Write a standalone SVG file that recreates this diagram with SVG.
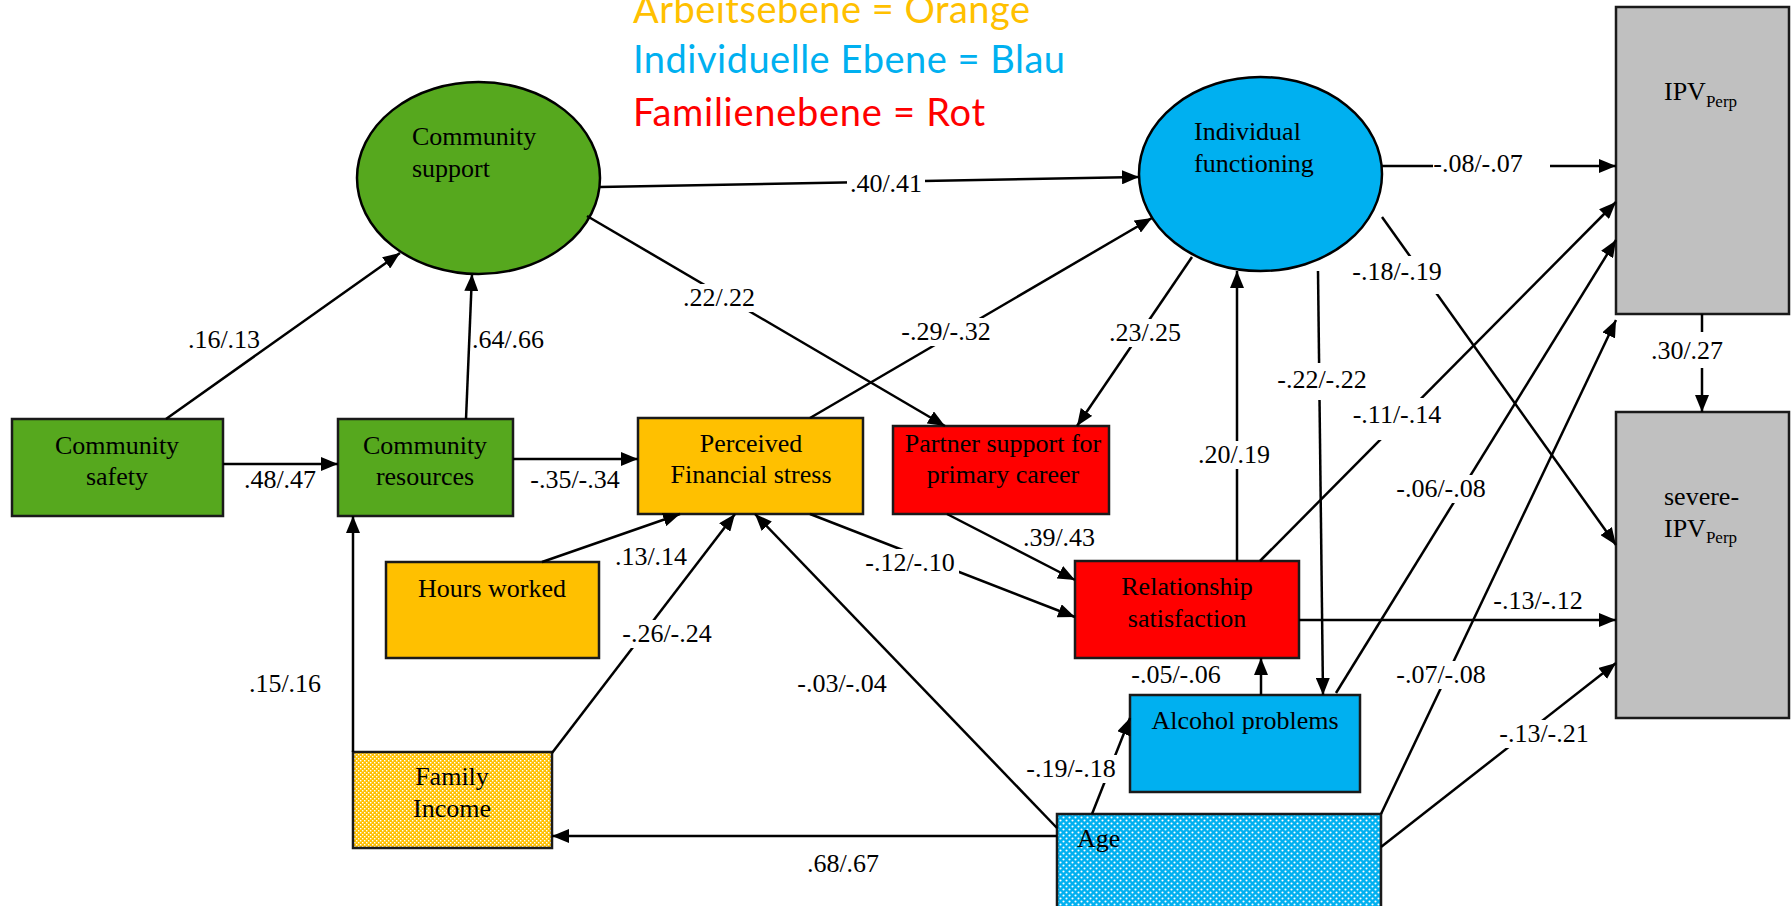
<svg xmlns="http://www.w3.org/2000/svg" width="1791" height="906" viewBox="0 0 1791 906">
<style>
.lbl{font-family:"Liberation Serif","Times New Roman",serif;font-size:26px;fill:#000}
.nt{font-family:"Liberation Serif","Times New Roman",serif;font-size:26px;fill:#000}
.c{stroke:#000;stroke-width:2.5;fill:none;marker-end:url(#ah)}
.l{stroke:#000;stroke-width:2.5;fill:none}
.box{stroke:#1a1a1a;stroke-width:2.5}
.bg{fill:#fff}
.leg{font-family:Lato,"Open Sans",sans-serif;font-size:38px}
</style>
<defs>
<marker id="ah" markerUnits="userSpaceOnUse" markerWidth="18" markerHeight="14" refX="17" refY="7" orient="auto">
<path d="M0,0 L17,7 L0,14 z" fill="#000"/>
</marker>
<pattern id="chk" width="4" height="4" patternUnits="userSpaceOnUse">
<rect width="4" height="4" fill="#FFC000"/>
<rect x="0" y="0" width="1.4" height="1.4" fill="#fff"/>
<rect x="2" y="2" width="1.4" height="1.4" fill="#fff"/>
</pattern>
<pattern id="dots" width="6" height="6" patternUnits="userSpaceOnUse">
<rect width="6" height="6" fill="#00B0F0"/>
<circle cx="1.5" cy="1.5" r="1.05" fill="#fff"/>
<circle cx="4.5" cy="4.5" r="1.05" fill="#fff"/>
</pattern>
</defs>
<rect width="1791" height="906" fill="#fff"/>

<g id="legend">
<text class="leg" x="633" y="23" fill="#FFC000" textLength="397">Arbeitsebene = Orange</text>
<text class="leg" x="633" y="73" fill="#00B0F0" textLength="432">Individuelle Ebene = Blau</text>
<text class="leg" x="633" y="126" fill="#FF0000" textLength="352">Familienebene = Rot</text>
</g>

<g id="community_support">
<ellipse cx="478.5" cy="178" rx="121.5" ry="96" fill="#56A81E" stroke="#000" stroke-width="2.5"/>
<text class="nt" x="412" y="145">Community</text>
<text class="nt" x="412" y="177">support</text>
</g>
<g id="individual_functioning">
<ellipse cx="1260.5" cy="174" rx="121.5" ry="97" fill="#00B0F0" stroke="#000" stroke-width="2.5"/>
<text class="nt" x="1194" y="140">Individual</text>
<text class="nt" x="1194" y="172">functioning</text>
</g>
<g id="community_safety">
<rect class="box" x="12" y="419" width="211" height="97" fill="#56A81E"/>
<text class="nt" x="117" y="454" text-anchor="middle">Community</text>
<text class="nt" x="117" y="485" text-anchor="middle">safety</text>
</g>
<g id="community_resources">
<rect class="box" x="338" y="419" width="175" height="97" fill="#56A81E"/>
<text class="nt" x="425" y="454" text-anchor="middle">Community</text>
<text class="nt" x="425" y="485" text-anchor="middle">resources</text>
</g>
<g id="perceived_financial_stress">
<rect class="box" x="638" y="418" width="225" height="96" fill="#FFC000"/>
<text class="nt" x="751" y="452" text-anchor="middle">Perceived</text>
<text class="nt" x="751" y="483" text-anchor="middle">Financial stress</text>
</g>
<g id="partner_support">
<rect class="box" x="893" y="426" width="216" height="88" fill="#FF0000"/>
<text class="nt" x="1003" y="452" text-anchor="middle">Partner support for</text>
<text class="nt" x="1003" y="483" text-anchor="middle">primary career</text>
</g>
<g id="hours_worked">
<rect class="box" x="386" y="562" width="213" height="96" fill="#FFC000"/>
<text class="nt" x="492" y="597" text-anchor="middle">Hours worked</text>
</g>
<g id="relationship_satisfaction">
<rect class="box" x="1075" y="561" width="224" height="97" fill="#FF0000"/>
<text class="nt" x="1187" y="595" text-anchor="middle">Relationship</text>
<text class="nt" x="1187" y="627" text-anchor="middle">satisfaction</text>
</g>
<g id="alcohol_problems">
<rect class="box" x="1130" y="695" width="230" height="97" fill="#00B0F0"/>
<text class="nt" x="1245" y="729" text-anchor="middle">Alcohol problems</text>
</g>
<g id="family_income">
<rect class="box" x="353" y="752" width="199" height="96" fill="url(#chk)"/>
<text class="nt" x="452" y="785" text-anchor="middle">Family</text>
<text class="nt" x="452" y="817" text-anchor="middle">Income</text>
</g>
<g id="age">
<rect class="box" x="1057" y="814" width="324" height="110" fill="url(#dots)"/>
<text class="nt" x="1077" y="847">Age</text>
</g>
<g id="ipv_perp">
<rect class="box" x="1616" y="7" width="173" height="307" fill="#C0C0C0"/>
<text class="nt" x="1664" y="100">IPV<tspan font-size="17" dy="7">Perp</tspan></text>
</g>
<g id="severe_ipv_perp">
<rect class="box" x="1616" y="412" width="173" height="306" fill="#C0C0C0"/>
<text class="nt" x="1664" y="505">severe-</text>
<text class="nt" x="1664" y="537">IPV<tspan font-size="17" dy="6">Perp</tspan></text>
</g>

<g id="connectors">
<line class="c" x1="166" y1="419" x2="400" y2="253"/>
<line class="c" x1="466" y1="419" x2="472" y2="274"/>
<line class="c" x1="223" y1="464" x2="338" y2="464"/>
<line class="c" x1="513" y1="459" x2="638" y2="459"/>
<line class="c" x1="600" y1="187" x2="1139" y2="177"/>
<line class="c" x1="587" y1="216" x2="945" y2="426"/>
<line class="c" x1="810" y1="418" x2="1152" y2="218"/>
<line class="c" x1="1192" y1="257" x2="1077" y2="426"/>
<line class="c" x1="1382" y1="166" x2="1616" y2="166"/>
<line class="c" x1="1382" y1="217" x2="1616" y2="545"/>
<line class="c" x1="1318" y1="271" x2="1323" y2="695"/>
<line class="c" x1="1237" y1="561" x2="1237" y2="271"/>
<line class="c" x1="1260" y1="561" x2="1616" y2="202"/>
<line class="c" x1="1336" y1="693" x2="1616" y2="240"/>
<line class="c" x1="1381" y1="814" x2="1616" y2="320"/>
<line class="c" x1="1299" y1="620" x2="1616" y2="620"/>
<line class="c" x1="1381" y1="847" x2="1616" y2="663"/>
<line class="c" x1="1702" y1="314" x2="1702" y2="412"/>
<line class="c" x1="947" y1="514" x2="1075" y2="580"/>
<line class="c" x1="810" y1="514" x2="1075" y2="617"/>
<line class="c" x1="542" y1="562" x2="680" y2="514"/>
<line class="c" x1="552" y1="753" x2="735" y2="514"/>
<line class="c" x1="1057" y1="828" x2="755" y2="514"/>
<line class="c" x1="1057" y1="836" x2="552" y2="836"/>
<line class="c" x1="1092" y1="814" x2="1130" y2="718"/>
<line class="c" x1="1261" y1="695" x2="1261" y2="658"/>
<line class="c" x1="353" y1="752" x2="353" y2="516"/>
</g>

<g id="labels">
<rect class="bg" x="847" y="170" width="78" height="28"/>
<rect class="bg" x="681" y="284" width="78" height="28"/>
<rect class="bg" x="897" y="318" width="98" height="28"/>
<rect class="bg" x="1106" y="319" width="79" height="28"/>
<rect class="bg" x="1433" y="150" width="117" height="28"/>
<rect class="bg" x="1350" y="256" width="95" height="38"/>
<rect class="bg" x="1274" y="363" width="96" height="37"/>
<rect class="bg" x="1350" y="398" width="95" height="42"/>
<rect class="bg" x="1195" y="441" width="78" height="28"/>
<rect class="bg" x="861" y="549" width="98" height="28"/>
<rect class="bg" x="618" y="620" width="98" height="28"/>
<rect class="bg" x="1393" y="475" width="96" height="28"/>
<rect class="bg" x="1393" y="661" width="96" height="28"/>
<rect class="bg" x="1495" y="720" width="97" height="28"/>
<rect class="bg" x="1023" y="755" width="96" height="28"/>
<rect class="bg" x="1647" y="332" width="80" height="36"/>
<text class="lbl" x="224" y="348" text-anchor="middle">.16/.13</text>
<text class="lbl" x="508" y="348" text-anchor="middle">.64/.66</text>
<text class="lbl" x="280" y="488" text-anchor="middle">.48/.47</text>
<text class="lbl" x="575" y="488" text-anchor="middle">-.35/-.34</text>
<text class="lbl" x="719" y="306" text-anchor="middle">.22/.22</text>
<text class="lbl" x="886" y="192" text-anchor="middle">.40/.41</text>
<text class="lbl" x="946" y="340" text-anchor="middle">-.29/-.32</text>
<text class="lbl" x="1145" y="341" text-anchor="middle">.23/.25</text>
<text class="lbl" x="1478" y="172" text-anchor="middle">-.08/-.07</text>
<text class="lbl" x="1397" y="280" text-anchor="middle">-.18/-.19</text>
<text class="lbl" x="1322" y="388" text-anchor="middle">-.22/-.22</text>
<text class="lbl" x="1397" y="423" text-anchor="middle">-.11/-.14</text>
<text class="lbl" x="1234" y="463" text-anchor="middle">.20/.19</text>
<text class="lbl" x="1059" y="546" text-anchor="middle">.39/.43</text>
<text class="lbl" x="651" y="565" text-anchor="middle">.13/.14</text>
<text class="lbl" x="910" y="571" text-anchor="middle">-.12/-.10</text>
<text class="lbl" x="667" y="642" text-anchor="middle">-.26/-.24</text>
<text class="lbl" x="285" y="692" text-anchor="middle">.15/.16</text>
<text class="lbl" x="842" y="692" text-anchor="middle">-.03/-.04</text>
<text class="lbl" x="843" y="872" text-anchor="middle">.68/.67</text>
<text class="lbl" x="1071" y="777" text-anchor="middle">-.19/-.18</text>
<text class="lbl" x="1176" y="683" text-anchor="middle">-.05/-.06</text>
<text class="lbl" x="1441" y="497" text-anchor="middle">-.06/-.08</text>
<text class="lbl" x="1538" y="609" text-anchor="middle">-.13/-.12</text>
<text class="lbl" x="1441" y="683" text-anchor="middle">-.07/-.08</text>
<text class="lbl" x="1544" y="742" text-anchor="middle">-.13/-.21</text>
<text class="lbl" x="1687" y="359" text-anchor="middle">.30/.27</text>
</g>
</svg>
